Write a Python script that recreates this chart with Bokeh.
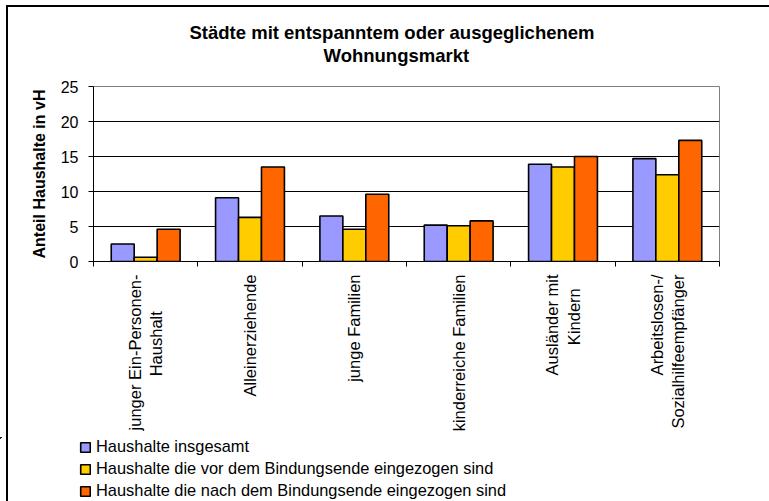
import math
from bokeh.plotting import figure
from bokeh.layouts import column
from bokeh.models import FixedTicker, Legend, LegendItem, ColumnDataSource, Range1d, Title, InlineStyleSheet
from bokeh.embed import file_html
from bokeh.resources import INLINE

NB = "\u00a0"
categories = ["junger Ein-Personen-\nHaushalt" + NB * 8, "Alleinerziehende", "junge Familien",
              "kinderreiche Familien", "Ausländer mit\nKindern" + NB * 3,
              "Arbeitslosen-/\nSozialhilfeempfänger"]
series_names = ["Haushalte insgesamt",
                "Haushalte die vor dem Bindungsende eingezogen sind",
                "Haushalte die nach dem Bindungsende eingezogen sind"]
insgesamt = [2.5, 9.1, 6.5, 5.2, 13.9, 14.7]
vor_bindungsende = [0.6, 6.3, 4.6, 5.1, 13.5, 12.4]
nach_bindungsende = [4.6, 13.5, 9.6, 5.8, 15.0, 17.3]
y_ticks = [0, 5, 10, 15, 20, 25]
title_lines = ["Städte mit entspanntem oder ausgeglichenem", "Wohnungsmarkt"]
colors = ["#9999FF", "#FFCC00", "#FF6600"]

FONT = "Liberation Sans"
n = len(categories)
centers = [i + 0.5 for i in range(n)]
bounds = [float(i) for i in range(n + 1)]
bar_w = 0.22
series = [insgesamt, vor_bindungsende, nach_bindungsende]

p = figure(width=769, height=437, x_range=Range1d(0, n), y_range=Range1d(0, 25),
           output_backend="svg", toolbar_location=None, title=None,
           min_border_left=93, min_border_right=50, min_border_top=86, min_border_bottom=176)
p.frame_align = False
p.border_fill_color = None
p.background_fill_color = "white"
p.outline_line_color = "#808080"
p.outline_line_width = 1

# title: two centred lines (second line added first: nearer to the frame)
t2 = Title(text=title_lines[1], align="left", offset=230, standoff=41,
           text_font=FONT, text_font_size="18.5px", text_font_style="bold", text_color="black")
t1 = Title(text=title_lines[0], align="left", offset=96, standoff=-41,
           text_font=FONT, text_font_size="18.5px", text_font_style="bold", text_color="black")
p.add_layout(t2, "above")
p.add_layout(t1, "above")

for k, (vals, col) in enumerate(zip(series, colors)):
    src = ColumnDataSource(dict(x=[c + (k - 1) * bar_w for c in centers], top=vals))
    p.vbar(x="x", top="top", width=bar_w, bottom=0, source=src,
           fill_color=col, line_color="black", line_width=1.6)

# axes
p.xgrid.visible = False
p.ygrid.grid_line_color = "#000000"
p.ygrid.grid_line_width = 1
p.ygrid.ticker = FixedTicker(ticks=y_ticks)

p.yaxis.ticker = FixedTicker(ticks=y_ticks)
p.yaxis.axis_line_color = "black"
p.yaxis.major_tick_out = 5
p.yaxis.major_tick_in = 0
p.yaxis.minor_tick_line_color = None
p.yaxis.major_label_text_font = FONT
p.yaxis.major_label_text_font_size = "16px"
p.yaxis.major_label_text_color = "black"
p.yaxis.major_label_standoff = 10
p.yaxis.axis_label = "Anteil Haushalte in vH"
p.yaxis.axis_label_text_font = FONT
p.yaxis.axis_label_text_font_size = "16px"
p.yaxis.axis_label_text_font_style = "bold"
p.yaxis.axis_label_text_color = "black"
p.yaxis.axis_label_standoff = 10

p.xaxis.ticker = FixedTicker(ticks=centers, minor_ticks=bounds)
p.xaxis.major_label_overrides = {c: lab for c, lab in zip(centers, categories)}
p.xaxis.major_label_orientation = math.pi / 2
p.xaxis.major_tick_line_color = None
p.xaxis.major_tick_out = 0
p.xaxis.major_tick_in = 0
p.xaxis.minor_tick_line_color = "black"
p.xaxis.minor_tick_out = 5
p.xaxis.minor_tick_in = 0
p.xaxis.axis_line_color = "black"
p.xaxis.major_label_text_font = FONT
p.xaxis.major_label_text_font_size = "16.5px"
p.xaxis.major_label_text_color = "black"
p.xaxis.major_label_standoff = 8

# legend strip below the chart (its bars lie outside the visible ranges)
p2 = figure(width=769, height=64, x_range=Range1d(n + 5, n + 6), y_range=Range1d(-2, -1),
            output_backend="svg", toolbar_location=None, title=None,
            x_axis_location=None, y_axis_location=None,
            min_border=0, min_border_left=0, min_border_right=0, min_border_top=0, min_border_bottom=0)
p2.frame_align = False
p2.grid.visible = False
p2.outline_line_color = None
p2.border_fill_color = None
p2.background_fill_color = None
proxies = []
for k, (vals, col) in enumerate(zip(series, colors)):
    src = ColumnDataSource(dict(x=[c + (k - 1) * bar_w for c in centers], top=vals))
    proxies.append(p2.vbar(x="x", top="top", width=bar_w, bottom=0, source=src,
                           fill_color=col, line_color="black", line_width=1.6))
legend = Legend(items=[LegendItem(label=s, renderers=[r]) for s, r in zip(series_names, proxies)],
                location=(79, 1), orientation="vertical")
legend.border_line_color = None
legend.background_fill_alpha = 0
legend.padding = 0
legend.margin = 0
legend.spacing = 3
legend.glyph_width = 12
legend.glyph_height = 12
legend.label_height = 19
legend.label_standoff = 5
legend.label_text_font = FONT
legend.label_text_font_size = "16.4px"
legend.label_text_color = "black"
p2.add_layout(legend, "center")

layout = column(p, p2, spacing=0)
layout.stylesheets = [InlineStyleSheet(css=(
    ":host { background: "
    "linear-gradient(#000,#000) 6px 5px / 2px calc(100% - 5px) no-repeat, "
    "linear-gradient(#000,#000) 6px 5px / calc(100% - 6px) 2px no-repeat, #fff; }"))]

open("out.html", "w").write(file_html(layout, INLINE))
